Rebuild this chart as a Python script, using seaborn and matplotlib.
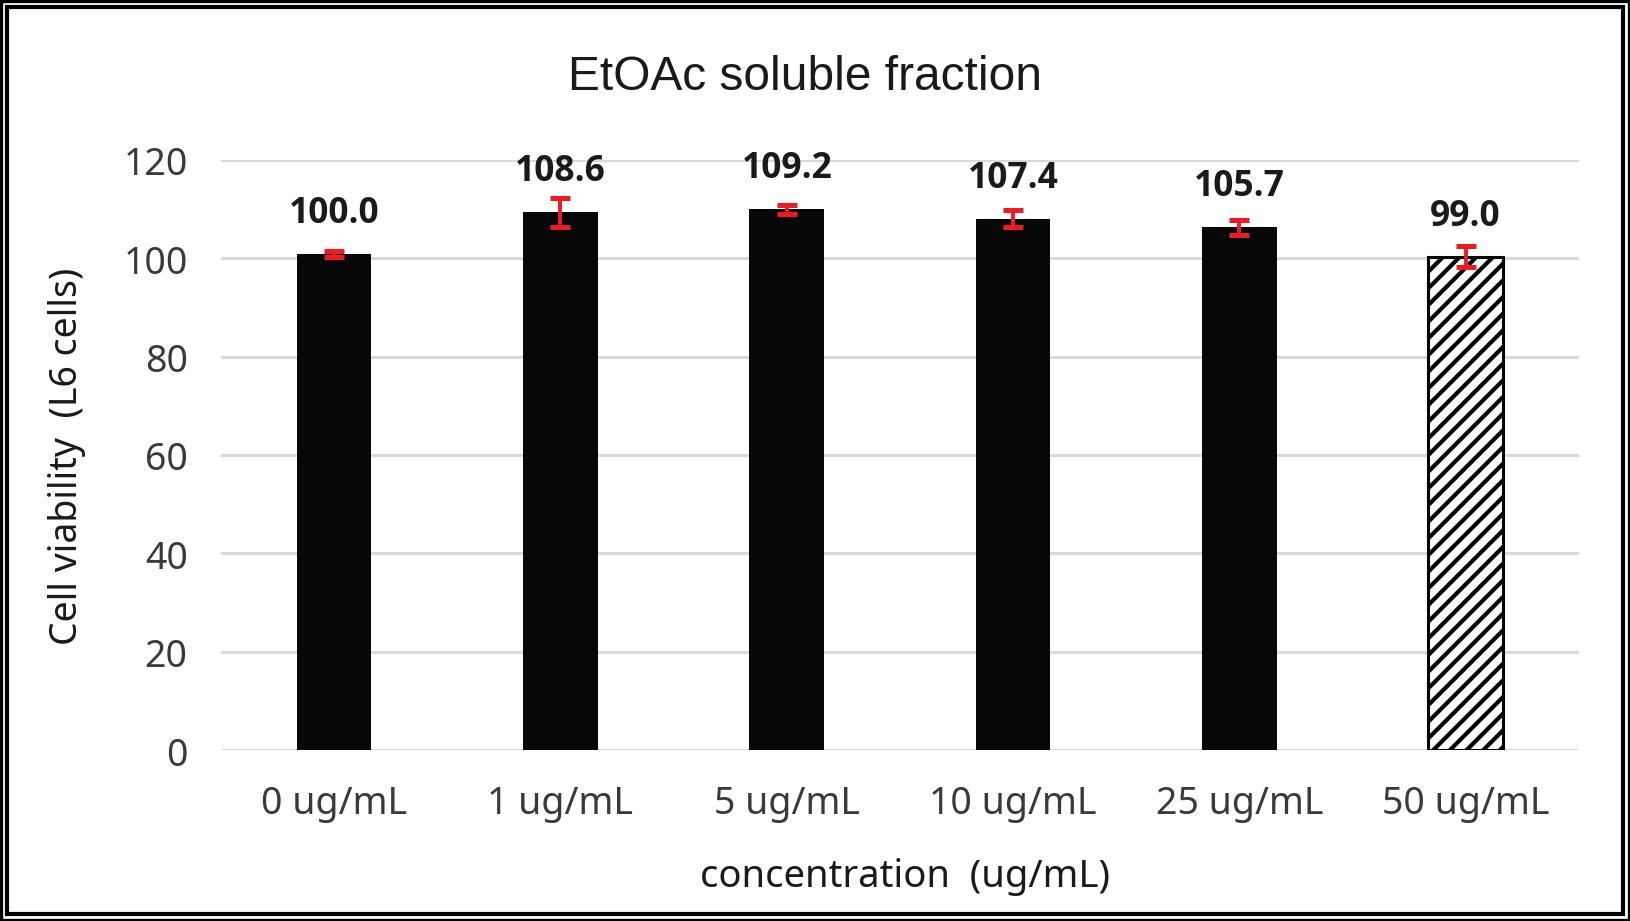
import matplotlib
matplotlib.use("Agg")
import matplotlib.pyplot as plt
import seaborn as sns
import pandas as pd
from matplotlib.patches import Rectangle

# ---- data ----
concentrations = ['0 ug/mL', '1 ug/mL', '5 ug/mL', '10 ug/mL', '25 ug/mL', '50 ug/mL']
viability = [100.8, 109.3, 109.9, 108.0, 106.3, 100.3]
errors = [0.6, 3.0, 1.0, 1.7, 1.5, 2.1]
value_labels = ['100.0', '108.6', '109.2', '107.4', '105.7', '99.0']
y_ticks = [0, 20, 40, 60, 80, 100, 120]

df = pd.DataFrame({'conc': concentrations, 'viability': viability})

sns.set_theme(style='white')
plt.rcParams['font.family'] = ['Noto Sans', 'DejaVu Sans']
plt.rcParams['hatch.linewidth'] = 3.0
plt.rcParams['hatch.color'] = 'black'

fig = plt.figure(figsize=(16.31, 9.219), dpi=100)
ax = fig.add_axes([0.1355, 0.1851, 0.8325, 0.6406])

palette = ['#070707'] * 5 + ['white']
sns.barplot(data=df, x='conc', y='viability', hue='conc', palette=palette,
            legend=False, width=0.33, errorbar=None, linewidth=0, ax=ax,
            saturation=1)

patches = sorted(ax.patches, key=lambda p: p.get_x())
xs = [p.get_x() + p.get_width() / 2 for p in patches]
last = patches[-1]
last.set_hatch('//')
last.set_edgecolor('black')
last.set_linewidth(2.2)
if hasattr(last, 'set_hatch_linewidth'):
    last.set_hatch_linewidth(3.0)

ax.errorbar(xs, viability, yerr=errors, fmt='none', ecolor='#ec1c24',
            elinewidth=2.8, capsize=7, capthick=3.6, zorder=5)

for x, v, lab in zip(xs, viability, value_labels):
    ax.annotate(lab, (x, v), xytext=(0, 23), textcoords='offset points',
                ha='center', va='baseline', fontsize=25.5, fontweight='bold',
                color='#1a1a1a', family=['Open Sans', 'DejaVu Sans'])

ax.set_ylim(0, 120)
ax.set_xlim(-0.5, 5.5)
ax.set_yticks(y_ticks)
ax.yaxis.grid(True, color='#d9d9d9', linewidth=2.2)
ax.xaxis.grid(False)
ax.set_axisbelow(True)
for s in ax.spines.values():
    s.set_visible(False)
ax.tick_params(axis='both', length=0, labelsize=27, colors='#3a3a3a')
ax.tick_params(axis='y', pad=24)
ax.tick_params(axis='x', pad=24)

ax.set_ylabel('Cell viability  (L6 cells)', fontsize=27, color='#1a1a1a', va='center')
ax.yaxis.set_label_coords((67 - 221) / 1358, 0.5)
ax.set_xlabel('concentration  (ug/mL)', fontsize=27.5, color='#1a1a1a', va='center')
ax.xaxis.set_label_coords((905 - 221) / 1358, (751.3 - 877) / 590.6)

fig.text(805 / 1631, 1 - 78 / 922, 'EtOAc soluble fraction', ha='center', va='center',
         fontsize=34.5, color='#1a1a1a', family=['Liberation Sans', 'DejaVu Sans'])

# double border
W, H = 1631, 922
fig.patches.append(Rectangle((1.5 / W, 1.5 / H), 1 - 3 / W, 1 - 3 / H, transform=fig.transFigure,
                             fill=False, edgecolor='black', linewidth=2.4))
fig.patches.append(Rectangle((7.5 / W, 7.5 / H), 1 - 15 / W, 1 - 15 / H, transform=fig.transFigure,
                             fill=False, edgecolor='black', linewidth=3.0))

fig.savefig('out.png', dpi=100)
